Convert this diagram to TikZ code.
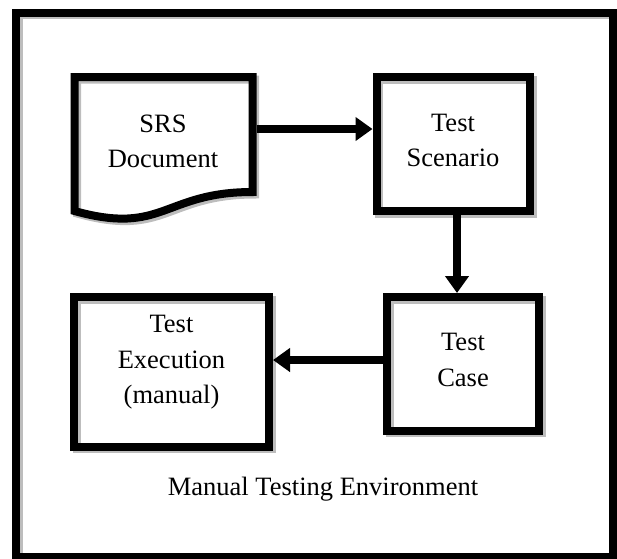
\documentclass[tikz,border=0pt]{standalone}
\usepackage{fontspec}
\setmainfont{Liberation Serif}
\usetikzlibrary{arrows.meta}
\definecolor{shadowgray}{HTML}{BDBDBD}
\tikzset{
  heavy/.style={draw=black, line width=8pt, line join=miter,
    preaction={draw=shadowgray, line width=8pt,
      transform canvas={xshift=2.5pt, yshift=-2.5pt}}},
  stepbox/.style={heavy, rectangle, inner sep=0pt},
  boxtext/.style={align=center, inner sep=0pt,
    font=\fontsize{26.5}{35.5}\selectfont},
  flowarrow/.style={draw=black, line width=8pt,
    -{Triangle[width=23pt, length=17pt]}}
}
\begin{document}
\begin{tikzpicture}[x=1pt, y=-1pt]
\useasboundingbox (0,0) rectangle (617,558);

% outer frame of the environment
\draw[heavy] (16,12.5) rectangle (613,557);

% SRS document shape with wavy lower edge
\draw[heavy] (74.5,77) -- (252.5,77) -- (252.5,192)
  .. controls (163.5,192) and (163.5,235.8) .. (74.5,211) -- cycle;
\node[rectangle, minimum width=178pt, minimum height=115pt, inner sep=0pt,
  outer sep=4pt] (srs) at (163.5,134.5) {};
\node[boxtext] (srs-t) at (163,141.5) {SRS\\Document};

% process boxes
\node[stepbox, minimum width=153.5pt, minimum height=134pt] (scen) at (453.25,144) {};
\node[boxtext] (scen-t) at (453,140.5) {Test\\Scenario};

\node[stepbox, minimum width=152pt, minimum height=133.5pt] (case) at (463,363.75) {};
\node[boxtext] (case-t) at (463,360) {Test\\Case};

\node[stepbox, minimum width=195pt, minimum height=149.5pt] (exec) at (171.5,371.75) {};
\node[boxtext] (exec-t) at (171.5,362.5) {Test\\Execution\\(manual)};

% caption
\node[boxtext] (env) at (323,489) {Manual Testing Environment};

% connectors
\coordinate (a1) at (0,129);
\coordinate (a2) at (457,0);
\coordinate (a3) at (0,360);
\draw[flowarrow] (srs.east |- a1) -- (scen.west |- a1);
\draw[flowarrow] (scen.south -| a2) -- (case.north -| a2);
\draw[flowarrow] (case.west |- a3) -- (exec.east |- a3);
\end{tikzpicture}
\end{document}
